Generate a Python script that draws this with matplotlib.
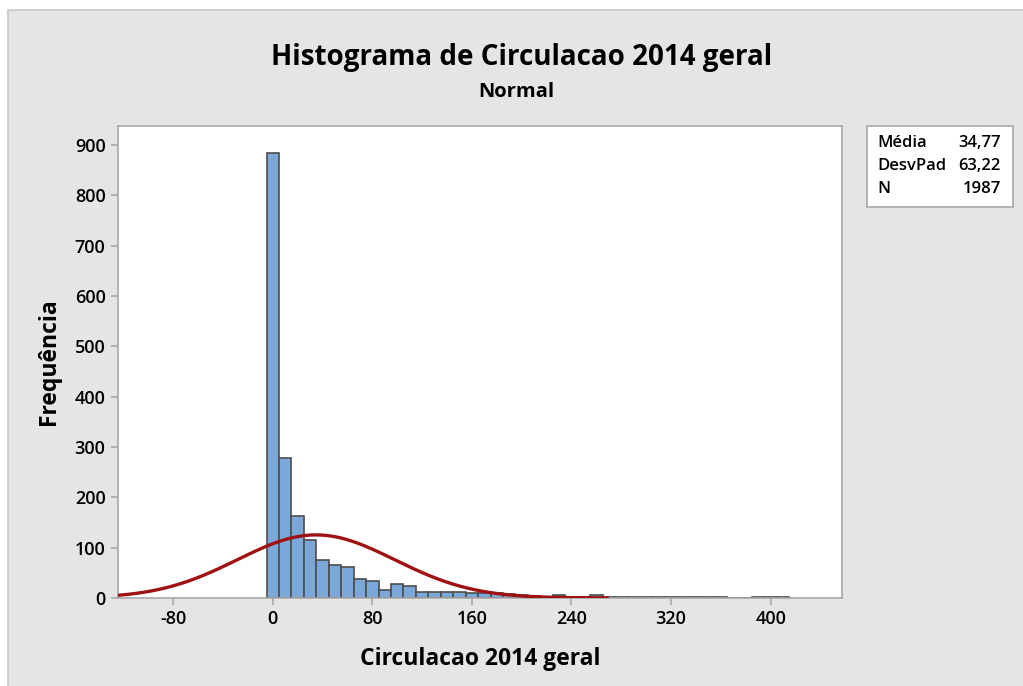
import numpy as np
import matplotlib.pyplot as plt
import matplotlib.patches as mpatches

plt.rcParams['font.family'] = ['Open Sans', 'DejaVu Sans']

# bin centers (width 10) and counts
bin_centers = np.arange(0, 420, 10)
counts = [885, 278, 162, 115, 76, 66, 62, 37, 34, 16,
          27, 23, 12, 12, 12, 12, 10, 9, 9, 7,
          5, 4, 2, 5, 1, 1, 5, 1, 1, 1,
          1, 1, 1, 1, 1, 1, 1, 0, 0, 2,
          2, 2]
bin_width = 10

mean, sd, n = 34.77, 63.22, 1987
stats_labels = ['Média', 'DesvPad', 'N']
stats_values = ['34,77', '63,22', '1987']

xticks = [-80, 0, 80, 160, 240, 320, 400]
yticks = list(range(0, 1000, 100))

bar_color = '#7ba7d9'
edge_color = '#4d4d4d'
curve_color = '#a01212'
panel_color = '#e5e5e5'
frame_color = '#a8a8a8'

fig = plt.figure(figsize=(10.23, 6.86), dpi=100, facecolor='white')

# gray panel with thin border
panel = mpatches.Rectangle((8 / 1023, -0.01), 1.02, 1 - 10 / 686 + 0.01,
                           transform=fig.transFigure, facecolor=panel_color,
                           edgecolor='#c8c8c8', linewidth=1.2, zorder=-10)
fig.patches.append(panel)

ax = fig.add_axes([118 / 1023, 88 / 686, (842 - 118) / 1023, (598 - 126) / 686])
ax.set_facecolor('white')

ax.bar(bin_centers, counts, width=bin_width, color=bar_color,
       edgecolor=edge_color, linewidth=1.2, zorder=2)

xs = np.linspace(-125, 270, 400)
ys = n * bin_width / (sd * np.sqrt(2 * np.pi)) * np.exp(-0.5 * ((xs - mean) / sd) ** 2)
ax.plot(xs, ys, color=curve_color, linewidth=2.4, zorder=3, solid_capstyle='butt')

ax.set_xlim(-124.3, 457.3)
ax.set_ylim(0, 938)
ax.set_xticks(xticks)
ax.set_yticks(yticks)
ax.set_xticklabels([str(t) for t in xticks])
for s in ax.spines.values():
    s.set_color(frame_color)
    s.set_linewidth(1.2)
ax.tick_params(direction='out', length=5, width=1.2, color=frame_color,
               labelsize=13, pad=4)
for lab in ax.get_xticklabels() + ax.get_yticklabels():
    lab.set_fontweight('semibold')

ax.set_xlabel('Circulacao 2014 geral', fontsize=16.5, fontweight='bold', labelpad=13)
ax.set_ylabel('Frequência', fontsize=16.5, fontweight='bold', labelpad=10)

fig.text(0.51, 1 - 57 / 686, 'Histograma de Circulacao 2014 geral',
         ha='center', va='center', fontsize=20, fontweight='bold')
fig.text(0.505, 1 - 92 / 686, 'Normal', ha='center', va='center',
         fontsize=14.5, fontweight='bold')

# stats box
box = mpatches.Rectangle((867 / 1023, 1 - 207 / 686), (1013 - 867) / 1023, (207 - 126) / 686,
                         transform=fig.transFigure, facecolor='white',
                         edgecolor=frame_color, linewidth=1.2)
fig.patches.append(box)
for i, (lab, val) in enumerate(zip(stats_labels, stats_values)):
    y = 1 - (143 + i * 23) / 686
    fig.text(877 / 1023, y, lab, ha='left', va='center', fontsize=12, fontweight='semibold')
    fig.text(1001 / 1023, y, val, ha='right', va='center', fontsize=12, fontweight='semibold')

fig.savefig('out.png', dpi=100, facecolor='white')
